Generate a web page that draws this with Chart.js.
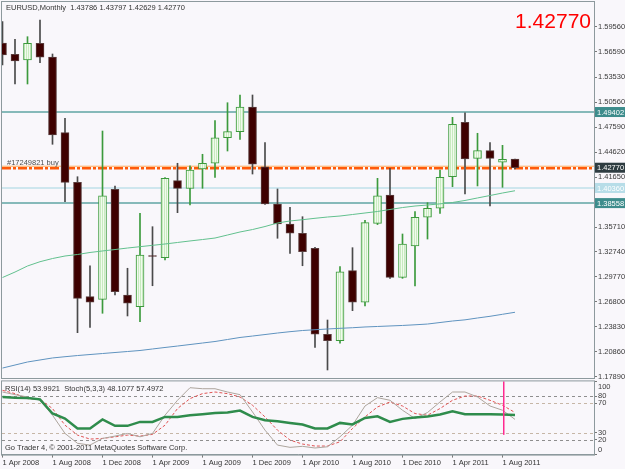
<!DOCTYPE html>
<html>
<head>
<meta charset="utf-8">
<script src="https://cdn.jsdelivr.net/npm/chart.js@4.4.0/dist/chart.umd.min.js"></script>
<style>
  html, body { margin: 0; padding: 0; background: #f9f7fb; }
  #wrap { position: relative; width: 625px; height: 469px; overflow: hidden; background: #f9f7fb; }
  canvas { position: absolute; left: 0; }
  #main { top: 0; }
  #ind { top: 378px; }
</style>
</head>
<body>
<div id="wrap">
  <canvas id="main" width="625" height="380"></canvas>
  <canvas id="ind" width="625" height="91"></canvas>
</div>
<script>
// EURUSD monthly, Apr 2008 .. Sep 2011
const MONTHS = [
  '1 Apr 2008','1 May 2008','1 Jun 2008','1 Jul 2008','1 Aug 2008','1 Sep 2008','1 Oct 2008','1 Nov 2008','1 Dec 2008',
  '1 Jan 2009','1 Feb 2009','1 Mar 2009','1 Apr 2009','1 May 2009','1 Jun 2009','1 Jul 2009','1 Aug 2009','1 Sep 2009','1 Oct 2009','1 Nov 2009','1 Dec 2009',
  '1 Jan 2010','1 Feb 2010','1 Mar 2010','1 Apr 2010','1 May 2010','1 Jun 2010','1 Jul 2010','1 Aug 2010','1 Sep 2010','1 Oct 2010','1 Nov 2010','1 Dec 2010',
  '1 Jan 2011','1 Feb 2011','1 Mar 2011','1 Apr 2011','1 May 2011','1 Jun 2011','1 Jul 2011','1 Aug 2011','1 Sep 2011'
];
const OPEN  = [1.5760,1.5627,1.5560,1.5758,1.5595,1.4694,1.4103,1.2742,1.2710,1.4021,1.2762,1.2622,1.3232,1.3206,1.4123,1.4032,1.4262,1.4330,1.4634,1.4706,1.5000,1.4289,1.3845,1.3607,1.3497,1.3318,1.2294,1.2218,1.3051,1.2675,1.3615,1.3952,1.2972,1.3345,1.3687,1.3794,1.4170,1.4818,1.4389,1.4480,1.4342,1.43786];
const HIGH  = [1.6016,1.5806,1.5837,1.6036,1.5631,1.4865,1.4170,1.3110,1.4714,1.4058,1.3080,1.3734,1.3575,1.4160,1.4330,1.4301,1.4437,1.4837,1.5051,1.5143,1.5143,1.4575,1.4024,1.3806,1.3694,1.3330,1.2464,1.3099,1.3325,1.3650,1.4151,1.4270,1.3488,1.3754,1.3861,1.4250,1.4877,1.4932,1.4687,1.4575,1.4544,1.43797];
const LOW   = [1.5500,1.5274,1.5274,1.5527,1.4556,1.3872,1.2313,1.2377,1.2544,1.2762,1.2512,1.2444,1.2872,1.3178,1.3742,1.3833,1.4032,1.4163,1.4476,1.4615,1.4202,1.3840,1.3437,1.3258,1.3110,1.2139,1.1869,1.2187,1.2575,1.2631,1.3600,1.2960,1.2960,1.2869,1.3428,1.3734,1.4051,1.3964,1.4060,1.3821,1.4044,1.42629];
const CLOSE = [1.5619,1.5548,1.5758,1.5592,1.4667,1.4103,1.2722,1.2675,1.3941,1.2801,1.2663,1.3238,1.3220,1.4151,1.4032,1.4250,1.4330,1.4634,1.4706,1.5000,1.4318,1.3845,1.3607,1.3497,1.3277,1.2294,1.2218,1.3039,1.2675,1.3623,1.3941,1.2972,1.3369,1.3687,1.3794,1.4163,1.4794,1.4381,1.4480,1.4389,1.4377,1.42770];

// moving averages
const MA_FAST = [1.2970,1.3035,1.3107,1.3158,1.3196,1.3226,1.3244,1.3268,1.3286,1.3303,1.3321,1.3337,1.3353,1.3369,1.3387,1.3405,1.3422,1.3440,1.3476,1.3512,1.3541,1.3577,1.3619,1.3643,1.3658,1.3675,1.3690,1.3702,1.3720,1.3738,1.3756,1.3780,1.3803,1.3821,1.3833,1.3847,1.3863,1.3887,1.3917,1.3946,1.3976,1.4003];
const MA_SLOW = [1.1892,1.1928,1.1964,1.1988,1.2012,1.2027,1.2041,1.2053,1.2065,1.2077,1.2089,1.2101,1.2119,1.2137,1.2154,1.2172,1.2190,1.2208,1.2232,1.2256,1.2273,1.2291,1.2309,1.2325,1.2339,1.2348,1.2357,1.2365,1.2372,1.2381,1.2387,1.2393,1.2399,1.2407,1.2416,1.2434,1.2452,1.2466,1.2488,1.2508,1.2532,1.2556];

// RSI(14), Stoch(5,3,3)
const RSI          = [78.7,77.8,77.3,75.5,56.1,49.3,35.7,35.7,48.0,39.3,39.3,44.7,44.7,51.5,51.5,53.8,55.2,56.9,57.5,60.2,51.5,47.0,45.7,43.3,41.2,35.7,35.7,43.3,41.2,50.1,52.4,44.7,48.8,50.7,52.0,54.8,59.2,55.2,55.2,55.2,54.8,53.99];
const STOCH_MAIN   = [85.5,81.9,78.7,74.2,53.8,28.9,15.4,13.0,22.1,25.3,28.9,24.3,28.9,53.8,74.2,91.4,90.0,90.0,85.5,81.9,58.3,33.4,13.0,9.9,11.3,9.0,10.7,24.3,40.2,66.4,77.8,74.2,60.6,49.3,57.5,71.9,85.5,85.5,78.7,66.4,60.6,48.11];
const STOCH_SIGNAL = [87.8,83.3,76.5,75.5,62.9,40.2,26.6,21.2,22.1,24.3,26.6,25.3,27.6,40.2,62.9,76.5,83.3,85.5,83.3,78.7,67.4,51.5,33.4,19.8,14.4,11.7,11.7,17.5,35.7,51.5,65.1,71.9,66.4,56.1,53.8,62.9,74.2,80.0,80.0,74.2,67.4,57.50];

const PRICE_TICKS = ['1.17890','1.20860','1.23830','1.26800','1.29770','1.32740','1.35710','1.38680','1.41650','1.44620','1.47590','1.50560','1.53530','1.56590','1.59560'];
const IND_TICKS = [0, 20, 30, 70, 80, 100];
const IND_LEVELS = [80, 70, 30, 20];
const H_LINES = [1.49402, 1.40360, 1.38558];
const ORDER_PRICE = 1.42770;
const AXIS_MARKS = [1.49402, 1.42770, 1.40360, 1.38558];
const VLINE_INDEX = 40;

const PRICE_MIN = 1.17735, PRICE_MAX = 1.62501;
const X_MIN = -0.04, X_MAX = 47.32;
const FONT = 'Liberation Sans';

const mainCanvas = document.getElementById('main');
const tile = document.createElement('canvas');
tile.width = 2; tile.height = 1;
const tg = tile.getContext('2d');
tg.fillStyle = '#c8ebbf'; tg.fillRect(0, 0, 1, 1);
tg.fillStyle = '#f1faee'; tg.fillRect(1, 0, 1, 1);
const bullFill = mainCanvas.getContext('2d').createPattern(tile, 'repeat');

const isBull = OPEN.map((o, i) => CLOSE[i] >= o);
const GREEN = '#3c9a3c';

function frame(ctx, a, color) {
  ctx.save();
  ctx.strokeStyle = color;
  ctx.lineWidth = 1;
  ctx.strokeRect(a.left - 0.5, a.top - 0.5, a.right - a.left + 1, a.bottom - a.top + 1);
  ctx.restore();
}

const mainDecor = {
  id: 'mainDecor',
  beforeDatasetsDraw(chart) {
    const { ctx, chartArea: a, scales: { y } } = chart;
    ctx.save();
    const cols = ['#86b9b9', '#bfe1ea', '#86b9b9'];
    const widths = [2, 1.5, 2];
    H_LINES.forEach((v, i) => {
      const py = y.getPixelForValue(v);
      ctx.strokeStyle = cols[i]; ctx.lineWidth = widths[i];
      ctx.beginPath(); ctx.moveTo(a.left, py); ctx.lineTo(a.right, py); ctx.stroke();
    });
    const oy = y.getPixelForValue(ORDER_PRICE);
    ctx.strokeStyle = '#ffa95a'; ctx.lineWidth = 1;
    ctx.beginPath(); ctx.moveTo(a.left, oy - 1.5); ctx.lineTo(a.right, oy - 1.5); ctx.stroke();
    ctx.strokeStyle = '#ff5a0a'; ctx.lineWidth = 2.5;
    ctx.setLineDash([9, 2, 3, 2]);
    ctx.beginPath(); ctx.moveTo(a.left, oy + 0.5); ctx.lineTo(a.right, oy + 0.5); ctx.stroke();
    ctx.restore();
  },
  afterDraw(chart) {
    const { ctx, chartArea: a, scales: { y } } = chart;
    frame(ctx, a, '#8d999d');
    ctx.save();
    ctx.textBaseline = 'middle';
    ctx.font = '7.5px ' + FONT;
    ctx.fillStyle = '#333';
    ctx.fillText('EURUSD,Monthly  1.43786 1.43797 1.42629 1.42770', 6, 8);
    ctx.fillStyle = '#505050';
    ctx.fillText('#17249821 buy', 7, y.getPixelForValue(ORDER_PRICE) - 5);
    // axis price boxes
    const bg = ['#3d8c8c', '#2e3c41', '#b7dde8', '#3d8c8c'];
    AXIS_MARKS.forEach((v, i) => {
      const py = y.getPixelForValue(v);
      ctx.fillStyle = bg[i];
      ctx.fillRect(a.right + 1, py - 5, chart.width - a.right - 1, 10);
      ctx.fillStyle = '#ffffff';
      ctx.fillText(v.toFixed(5), a.right + 3, py + 0.5);
    });
    ctx.fillStyle = '#ff0000';
    ctx.font = '21px ' + FONT;
    ctx.textAlign = 'right';
    ctx.textBaseline = 'alphabetic';
    ctx.fillText(ORDER_PRICE.toFixed(5), 591, 28);
    ctx.restore();
  }
};

new Chart(mainCanvas, {
  type: 'bar',
  data: {
    datasets: [
      {
        type: 'line', data: MA_FAST.map((v, i) => ({ x: i, y: v })),
        borderColor: '#62c08e', borderWidth: 1, pointRadius: 0, tension: 0, order: 0
      },
      {
        type: 'line', data: MA_SLOW.map((v, i) => ({ x: i, y: v })),
        borderColor: '#5f93bf', borderWidth: 1, pointRadius: 0, tension: 0, order: 0
      },
      {
        data: OPEN.map((o, i) => ({ x: i, y: [o, CLOSE[i]] })),
        backgroundColor: isBull.map(b => b ? bullFill : '#3e0000'),
        borderColor: isBull.map(b => b ? GREEN : '#5a3c3c'),
        borderWidth: 1, borderSkipped: false, barThickness: 8, grouped: false, order: 1
      },
      {
        data: HIGH.map((h, i) => ({ x: i, y: [LOW[i], h] })),
        backgroundColor: isBull.map(b => b ? GREEN : '#4a4a4a'),
        borderWidth: 0, barThickness: 1, grouped: false, order: 2
      }
    ]
  },
  options: {
    responsive: false, animation: false, devicePixelRatio: 1,
    layout: { padding: { left: 2, top: 2, right: 0, bottom: 2 } },
    plugins: { legend: { display: false }, tooltip: { enabled: false } },
    scales: {
      x: { type: 'linear', display: false, min: X_MIN, max: X_MAX, offset: false },
      y: {
        position: 'right', min: PRICE_MIN, max: PRICE_MAX,
        afterBuildTicks: s => { s.ticks = PRICE_TICKS.map(t => ({ value: parseFloat(t) })); },
        afterFit: s => { s.width = 31; s.paddingTop = 0; s.paddingBottom = 0; },
        ticks: { callback: (v, i) => PRICE_TICKS[i], font: { family: FONT, size: 7.5 }, color: '#3a3a3a', padding: 1 },
        grid: { drawOnChartArea: false, tickLength: 3, tickColor: '#777' },
        border: { color: '#8d999d' }
      }
    }
  },
  plugins: [mainDecor]
});

const indDecor = {
  id: 'indDecor',
  beforeDatasetsDraw(chart) {
    const { ctx, chartArea: a, scales: { y } } = chart;
    ctx.save();
    ctx.setLineDash([3, 3]);
    ctx.lineWidth = 1;
    IND_LEVELS.forEach(v => {
      const py = Math.round(y.getPixelForValue(v)) + 0.5;
      ctx.strokeStyle = (v === 80 || v === 20) ? '#8e8e8e' : '#c6b6a6';
      ctx.beginPath(); ctx.moveTo(a.left, py); ctx.lineTo(a.right, py); ctx.stroke();
    });
    ctx.restore();
  },
  afterDraw(chart) {
    const { ctx, chartArea: a, scales: { x, y } } = chart;
    ctx.save();
    ctx.setLineDash([]);
    const vx = Math.round(x.getPixelForValue(VLINE_INDEX));
    ctx.fillStyle = '#ff2a90';
    const y0 = y.getPixelForValue(100), y1 = y.getPixelForValue(27);
    ctx.fillRect(vx, y0, 1.5, y1 - y0);
    ctx.font = '7.5px ' + FONT;
    ctx.textBaseline = 'middle';
    ctx.fillStyle = '#333';
    ctx.fillText('RSI(14) 53.9921  Stoch(5,3,3) 48.1077 57.4972', 5, 11);
    ctx.fillText('Go Trader 4, \u00a9 2001-2011 MetaQuotes Software Corp.', 5, 70);
    ctx.fillStyle = '#3a3a3a';
    IND_TICKS.forEach(v => {
      const py = Math.min(Math.max(y.getPixelForValue(v), a.top + 5.3), a.bottom - 4.6);
      ctx.fillText(String(v), a.right + 4, py);
    });
    ctx.restore();
    frame(ctx, a, '#8d999d');
  }
};

new Chart(document.getElementById('ind'), {
  type: 'line',
  data: {
    datasets: [
      { data: RSI.map((v, i) => ({ x: i, y: v })), borderColor: '#2f8c4c', borderWidth: 2.5, order: 0 },
      { data: STOCH_MAIN.map((v, i) => ({ x: i, y: v })), borderColor: '#ada59d', borderWidth: 1, order: 1 },
      { data: STOCH_SIGNAL.map((v, i) => ({ x: i, y: v })), borderColor: '#e05555', borderWidth: 1, borderDash: [3, 2], order: 2 }
    ]
  },
  options: {
    responsive: false, animation: false, devicePixelRatio: 1,
    elements: { point: { radius: 0 }, line: { tension: 0 } },
    layout: { padding: { left: 2, top: 3.4, right: 0, bottom: 0 } },
    plugins: { legend: { display: false }, tooltip: { enabled: false } },
    scales: {
      x: {
        type: 'linear', min: X_MIN, max: X_MAX, offset: false,
        afterBuildTicks: s => { s.ticks = MONTHS.map((m, i) => i).filter(i => i % 4 === 0).map(v => ({ value: v })); },
        afterFit: s => { s.height = 14.4; s.paddingLeft = 0; s.paddingRight = 0; },
        ticks: { callback: v => MONTHS[v], align: 'start', maxRotation: 0, autoSkip: false, font: { family: FONT, size: 7.5 }, color: '#333', padding: 1 },
        grid: { drawOnChartArea: false, tickLength: 3, tickColor: '#777' },
        border: { color: '#8d999d' }
      },
      y: {
        position: 'right', min: 0, max: 100,
        afterBuildTicks: s => { s.ticks = IND_TICKS.map(v => ({ value: v })); },
        afterFit: s => { s.width = 31; s.paddingTop = 0; s.paddingBottom = 0; },
        ticks: { display: false },
        grid: { drawOnChartArea: false, tickLength: 3, tickColor: '#777' },
        border: { color: '#8d999d' }
      }
    }
  },
  plugins: [indDecor]
});
</script>
</body>
</html>
